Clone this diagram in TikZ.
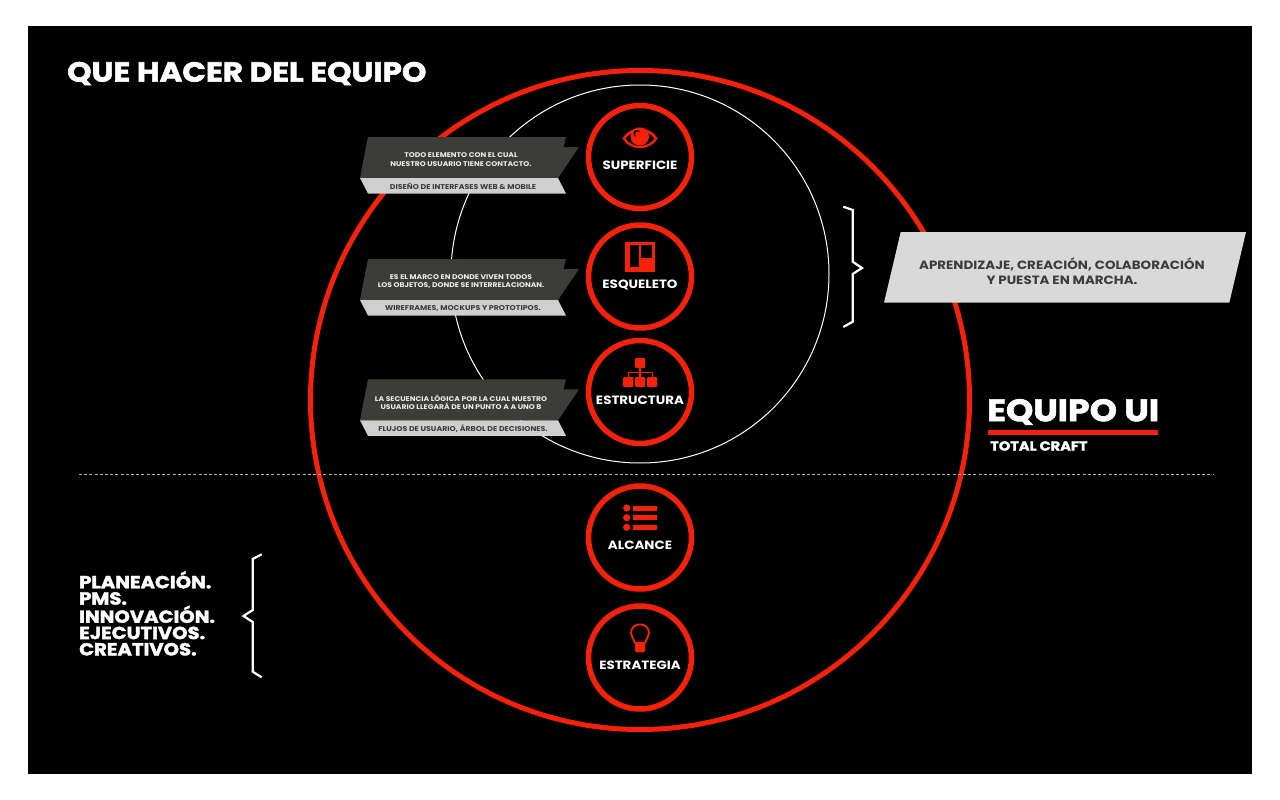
\documentclass[tikz,border=0pt]{standalone}
\usepackage{fontspec}
\setmainfont{Poppins}
\newfontfamily\heavyfont{Poppins Bold}[FakeBold=2,FakeStretch=1.12]
\newfontfamily\midfont{Poppins Bold}[FakeStretch=1.12]
\definecolor{ured}{HTML}{F5210A}
\definecolor{udark}{HTML}{3C3C39}
\definecolor{ugray}{HTML}{CFCFCF}
\definecolor{ulight}{HTML}{D9D9D9}
\definecolor{utxt}{HTML}{ECECEC}
\tikzset{
  stage/.style={circle,draw=ured,line width=5.5pt,fill=black,minimum size=103pt,inner sep=0pt},
  stagelabel/.style={text=white,font=\midfont\fontsize{12}{13}\selectfont,inner sep=0pt},
  notetext/.style={text=utxt,align=center,inner sep=0pt,font=\midfont\fontsize{6.8}{8.4}\selectfont},
  subtext/.style={text=udark,inner sep=0pt,font=\midfont\fontsize{7}{8}\selectfont},
  darkflag/.style={fill=udark},
  grayflag/.style={fill=ugray},
  bracket/.style={draw=white,line width=2.2pt,line join=miter},
  iconfill/.style={fill=ured},
  iconline/.style={draw=ured,line width=1.9pt},
  heavy/.style={text=white,inner sep=0pt,font=\heavyfont}
}
\begin{document}
\begin{tikzpicture}[x=1pt,y=-1pt]
\useasboundingbox (0,0) rectangle (1280,800);
\fill[white] (0,0) rectangle (1280,800);
\fill[black] (28,26) rectangle (1252,774);
% big circles
\node[circle,draw=ured,line width=5pt,minimum size=659pt,inner sep=0pt] (outer) at (640,400) {};
\node[circle,draw=white,line width=1pt,minimum size=378pt,inner sep=0pt] (inner) at (640,274) {};
% dashed divider
\coordinate (dl) at (79,474);
\coordinate (dr) at (1213,474);
\draw[draw=white!70!black,line width=1pt,dash pattern=on 3pt off 2.2pt] (dl) -- (dr);
% title
\node[heavy,anchor=west,font=\heavyfont\fontsize{27.7}{28}\selectfont] (title) at (67,73.5) {QUE HACER DEL EQUIPO};
% stage circles
\node[stage] (sup) at (640,157) {};
\node[stage] (esq) at (640,276.5) {};
\node[stage] (est) at (640,392) {};
\node[stage] (alc) at (640,537.5) {};
\node[stage] (etr) at (640,657.5) {};
\node[stagelabel] (lsup) at (640,165) {SUPERFICIE};
\node[stagelabel] (lesq) at (640,284.5) {ESQUELETO};
\node[stagelabel] (lest) at (640,400) {ESTRUCTURA};
\node[stagelabel] (lalc) at (640,545.5) {ALCANCE};
\node[stagelabel] (letr) at (640,665.5) {ESTRATEGIA};
% flags
\foreach \dy in {0,122,242.3}{
  \begin{scope}[yshift=-\dy pt]
  \fill[darkflag] (368,137) -- (566,137) -- (563.5,147) -- (579,147) -- (558,178) -- (360,178) -- cycle;
  \fill[grayflag] (360,178) -- (558,178) -- (566,193.5) -- (368,193.5) -- cycle;
  \end{scope}
}
\node[notetext] (n1) at (461,159.8) {TODO ELEMENTO CON EL CUAL\\NUESTRO USUARIO TIENE CONTACTO.};
\node[subtext] (s1) at (463,186) {DISEÑO DE INTERFASES WEB \& MOBILE};
\node[notetext] (n2) at (461,281.8) {ES EL MARCO EN DONDE VIVEN TODOS\\LOS OBJETOS, DONDE SE INTERRELACIONAN.};
\node[subtext] (s2) at (463,308) {WIREFRAMES, MOCKUPS Y PROTOTIPOS.};
\node[notetext] (n3) at (461,402.5) {LA SECUENCIA LÓGICA POR LA CUAL NUESTRO\\USUARIO LLEGARÁ DE UN PUNTO A A UNO B};
\node[subtext] (s3) at (463,429) {FLUJOS DE USUARIO, ÁRBOL DE DECISIONES.};
% eye icon
\fill[iconfill,even odd rule] (622.5,138.5) .. controls (630,125) and (650,125) .. (657.5,138.5) .. controls (650,151.5) and (630,151.5) .. (622.5,138.5)
  (625.5,138.5) .. controls (632,129) and (648,129) .. (654.5,138.5) .. controls (648,148.5) and (632,148.5) .. (625.5,138.5);
\fill[iconfill] (639.8,136.5) circle[radius=9.2];
\fill[black] (637,133.5) circle[radius=3.6];
\fill[iconfill] (638.4,134.6) circle[radius=3.2];
% skeleton icon
\fill[iconfill] (625.3,242) rectangle (654.7,272);
\fill[black] (629.5,245) rectangle (638.7,267.3);
\fill[black] (641.3,245) rectangle (652,258.3);
% structure icon
\fill[iconfill,rounded corners=1pt] (635,358) rectangle (645,368);
\draw[draw=ured,line width=1.3pt] (640,368) -- (640,377) (628.2,377) -- (628.2,372.5) -- (652.3,372.5) -- (652.3,377);
\fill[iconfill,rounded corners=1pt] (623,377) rectangle (633.3,387);
\fill[iconfill,rounded corners=1pt] (635.2,377) rectangle (645.2,387);
\fill[iconfill,rounded corners=1pt] (647.2,377) rectangle (657,387);
% list icon
\foreach \yy in {508,517.7,527.3}{
  \fill[iconfill] (626.7,\yy) circle[radius=3.6];
  \fill[iconfill] (633.3,\yy-2.5) rectangle (657.3,\yy+2.5);
}
% bulb icon
\draw[iconline] (635,643) .. controls (633,637) and (631,636.5) .. (631,633) .. controls (631,621.5) and (649,621.5) .. (649,633) .. controls (649,636.5) and (647,637) .. (645,643) -- cycle;
\fill[iconfill,rounded corners=1.5pt] (635,643) rectangle (645,652.3);
% right box
\fill[ulight] (900.7,232) -- (1246,232) -- (1229.3,302.7) -- (884,302.7) -- cycle;
\node[text=udark,align=center,inner sep=0pt,font=\midfont\fontsize{12}{14.8}\selectfont] (rbox) at (1062,271) {APRENDIZAJE, CREACIÓN, COLABORACIÓN\\Y PUESTA EN MARCHA.};
% braces
\draw[bracket] (843.3,206.7) -- (852.7,210) -- (852.7,261.7) -- (862,268) -- (852.7,274) -- (852.7,321.7) -- (843.3,327);
\draw[bracket] (261.7,554.3) -- (252.7,559) -- (252.7,610) -- (243.5,616) -- (252.7,622) -- (252.7,671.7) -- (261.7,677.3);
% left list
\node[heavy,anchor=north west,align=left,font=\heavyfont\fontsize{17.5}{16.3}\selectfont] (plist) at (79,571) {PLANEACIÓN.\\PMS.\\INNOVACIÓN.\\EJECUTIVOS.\\CREATIVOS.};
% brand
\node[heavy,anchor=west,font=\heavyfont\fontsize{31}{32}\selectfont] (brand) at (987,412) {EQUIPO UI};
\fill[ured] (987.5,430.3) rectangle (1158,435);
\node[heavy,anchor=west,font=\heavyfont\fontsize{13}{14}\selectfont] (craft) at (990,446) {TOTAL CRAFT};
\end{tikzpicture}
\end{document}
